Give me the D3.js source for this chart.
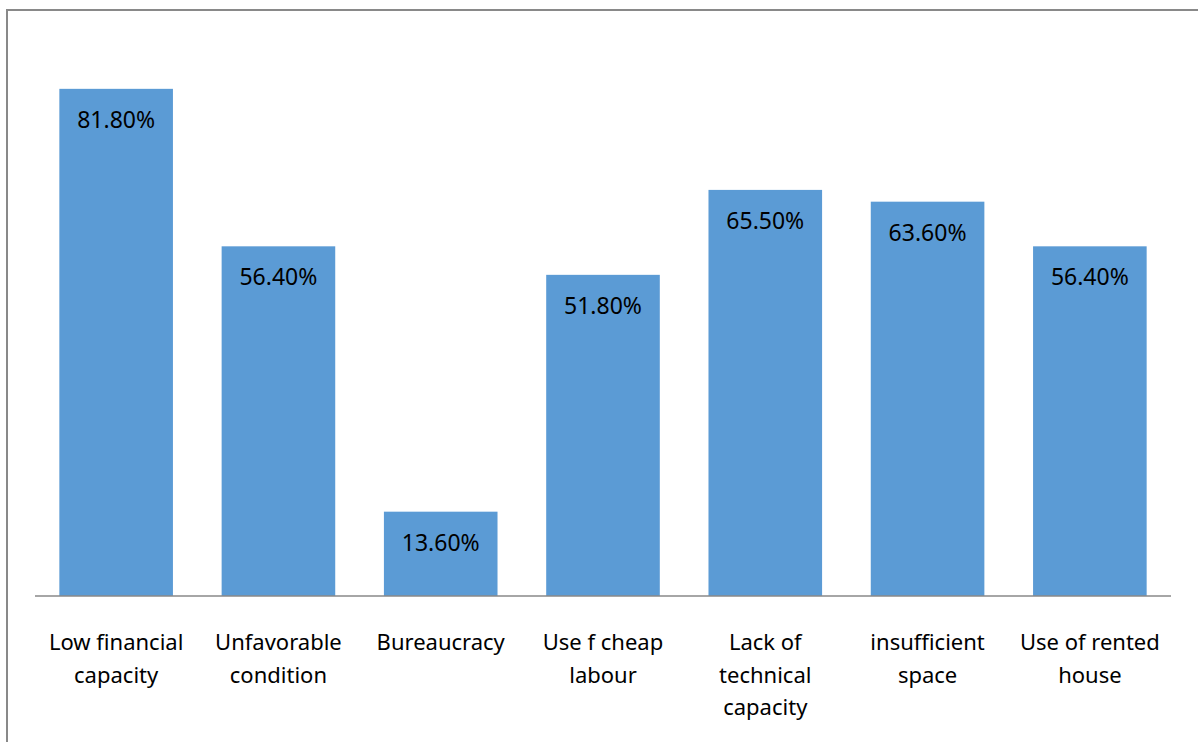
<!DOCTYPE html>
<html><head><meta charset="utf-8">
<script src="https://cdn.jsdelivr.net/npm/d3@7"></script>
<style>html,body{margin:0;padding:0;background:#fff;}svg{display:block;}</style>
</head><body>
<svg id="c" width="1198" height="742"></svg>
<script>
const categories = ["Low financial\ncapacity","Unfavorable\ncondition","Bureaucracy","Use f cheap\nlabour","Lack of\ntechnical\ncapacity","insufficient\nspace","Use of rented\nhouse"];
const values = [81.8, 56.4, 13.6, 51.8, 65.5, 63.6, 56.4];
const valueLabels = ["81.80%","56.40%","13.60%","51.80%","65.50%","63.60%","56.40%"];
const yMax = 90;

(function(){
const svg = d3.select("#c");
const font = "'Noto Sans', sans-serif";
svg.append("rect").attr("x",7).attr("y",10).attr("width",1300).attr("height",800)
  .attr("fill","none").attr("stroke","#898989").attr("stroke-width",2);

const pLeft=35, pRight=1171, pTop=38, pBottom=596;
const x = d3.scaleBand().domain(categories).range([pLeft,pRight]).paddingInner(0.3).paddingOuter(0.15);
const y = d3.scaleLinear().domain([0,yMax]).range([pBottom,pTop]);

svg.selectAll("rect.bar").data(values).join("rect").attr("class","bar")
  .attr("x",(d,i)=>x(categories[i])).attr("width",x.bandwidth())
  .attr("y",d=>y(d)).attr("height",d=>pBottom-y(d)).attr("fill","#5B9BD5");

svg.selectAll("text.val").data(values).join("text").attr("class","val")
  .attr("x",(d,i)=>x(categories[i])+x.bandwidth()/2).attr("y",d=>y(d)+39)
  .attr("text-anchor","middle").attr("font-family",font).attr("font-size",23).attr("fill","#000")
  .text((d,i)=>valueLabels[i]);

const xAxis = d3.axisBottom(x).tickSize(0).tickFormat("");
const ag = svg.append("g").attr("transform",`translate(0,${pBottom})`).call(xAxis);
ag.select(".domain").attr("stroke","#898989").attr("stroke-width",1.5).attr("d",`M${pLeft},0H${pRight}`);

const lg = svg.selectAll("text.cat").data(categories).join("text").attr("class","cat")
  .attr("x",d=>x(d)+x.bandwidth()/2).attr("y",650)
  .attr("text-anchor","middle").attr("font-family",font).attr("font-size",22).attr("fill","#000");
lg.each(function(d){
  const t=d3.select(this);
  d.split("\n").forEach((line,i)=>{
    t.append("tspan").attr("x",x(d)+x.bandwidth()/2).attr("dy",i===0?0:32.5).text(line);
  });
});
})();
</script>
</body></html>
